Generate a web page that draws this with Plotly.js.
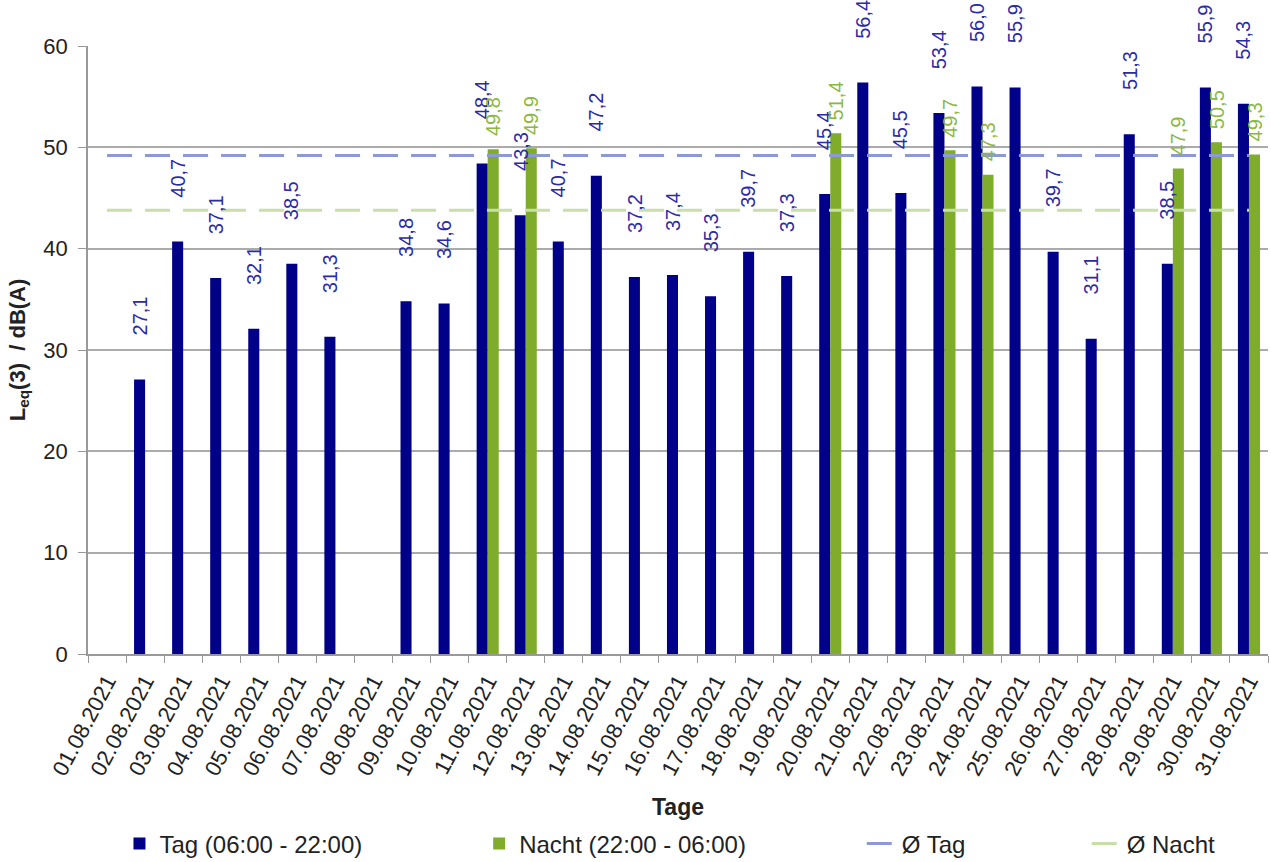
<!DOCTYPE html>
<html><head><meta charset="utf-8">
<script src="https://cdn.plot.ly/plotly-3.0.1.min.js"></script>
<style>html,body{margin:0;padding:0;background:#fff}</style>
</head><body>
<div id="chart" style="width:1271px;height:862px"></div>
<script>
const days = ['01.08.2021','02.08.2021','03.08.2021','04.08.2021','05.08.2021','06.08.2021','07.08.2021','08.08.2021','09.08.2021','10.08.2021','11.08.2021','12.08.2021','13.08.2021','14.08.2021','15.08.2021','16.08.2021','17.08.2021','18.08.2021','19.08.2021','20.08.2021','21.08.2021','22.08.2021','23.08.2021','24.08.2021','25.08.2021','26.08.2021','27.08.2021','28.08.2021','29.08.2021','30.08.2021','31.08.2021'];
const tagValues = [null,27.1,40.7,37.1,32.1,38.5,31.3,null,34.8,34.6,48.4,43.3,40.7,47.2,37.2,37.4,35.3,39.7,37.3,45.4,56.4,45.5,53.4,56.0,55.9,39.7,31.1,51.3,38.5,55.9,54.3];
const nachtValues = [null,null,null,null,null,null,null,null,null,null,49.8,49.9,null,null,null,null,null,null,null,51.4,null,null,49.7,47.3,null,null,null,null,47.9,50.5,49.3];
const avgTag = 49.2;
const avgNacht = 43.8;
const seriesNames = ['Tag (06:00 - 22:00)', 'Nacht (22:00 - 06:00)', 'Ø Tag', 'Ø Nacht'];

const FONT = 'Liberation Sans, Arial, sans-serif';
const cTag = '#000088', cNacht = '#80AC2C', cAvgTag = '#8D99D2', cAvgNacht = '#C9DFAA';

const traces = [
  {type:'bar', x:days, y:tagValues, name:seriesNames[0], marker:{color:cTag}, legend:'legend', hoverinfo:'x+y'},
  {type:'bar', x:days, y:nachtValues, name:seriesNames[1], marker:{color:cNacht}, legend:'legend2', hoverinfo:'x+y'},
  {type:'scatter', mode:'lines', x:days, y:days.map(()=>avgTag), name:seriesNames[2], line:{color:cAvgTag, width:3, dash:'25px,13px'}, legend:'legend3'},
  {type:'scatter', mode:'lines', x:days, y:days.map(()=>avgNacht), name:seriesNames[3], line:{color:cAvgNacht, width:3, dash:'25px,13px'}, legend:'legend4'}
];

const fmt = v => v.toFixed(1).replace('.', ',');
const annotations = [];
days.forEach((d,i) => {
  if (tagValues[i] !== null) annotations.push({x:d, y:tagValues[i], xref:'x', yref:'y', text:fmt(tagValues[i]), textangle:-90, showarrow:false, xanchor:'center', yanchor:'bottom', xshift:-5.5, yshift:42, font:{family:FONT, size:20, color:'#2B2BA6'}});
  if (nachtValues[i] !== null) annotations.push({x:d, y:nachtValues[i], xref:'x', yref:'y', text:fmt(nachtValues[i]), textangle:-90, showarrow:false, xanchor:'center', yanchor:'bottom', xshift:5.5, yshift:11, font:{family:FONT, size:20, color:'#8DB83E'}});
});

const legBase = {orientation:'h', xref:'container', yref:'container', yanchor:'middle', y:0.021, font:{family:FONT, size:24, color:'#222'}, bgcolor:'rgba(0,0,0,0)'};

const layout = {
  width:1271, height:862,
  margin:{l:88, r:3, t:46, b:208},
  paper_bgcolor:'#fff', plot_bgcolor:'#fff',
  barmode:'group', bargap:0.42, bargroupgap:0,
  font:{family:FONT, color:'#222'},
  xaxis:{type:'category', tickangle:-62, tickson:'boundaries', ticks:'outside', ticklen:7, tickcolor:'#999', showline:true, linecolor:'#999', linewidth:1.5, showgrid:false, tickfont:{family:FONT, size:22, color:'#222'}, ticklabelstandoff:4,
         title:{text:'Tage', font:{family:FONT, size:23, color:'#222', weight:'bold'}, standoff:20}},
  yaxis:{range:[0,60], dtick:10, ticks:'outside', ticklen:8, tickcolor:'#999', showline:true, linecolor:'#999', linewidth:1.5, gridcolor:'#ABABAB', gridwidth:1.5, zeroline:false, tickfont:{family:FONT, size:22, color:'#222'}, ticklabelstandoff:6,
         title:{text:'L<sub>eq</sub>(3)  / dB(A)', font:{family:FONT, size:22, color:'#222', weight:'bold'}, standoff:12}},
  showlegend:true,
  legend: Object.assign({}, legBase, {x:0.094}),
  legend2: Object.assign({}, legBase, {x:0.377}),
  legend3: Object.assign({}, legBase, {x:0.678}),
  legend4: Object.assign({}, legBase, {x:0.855}),
  annotations: annotations
};

Plotly.newPlot('chart', traces, layout, {displayModeBar:false, responsive:false});
</script>
</body></html>
